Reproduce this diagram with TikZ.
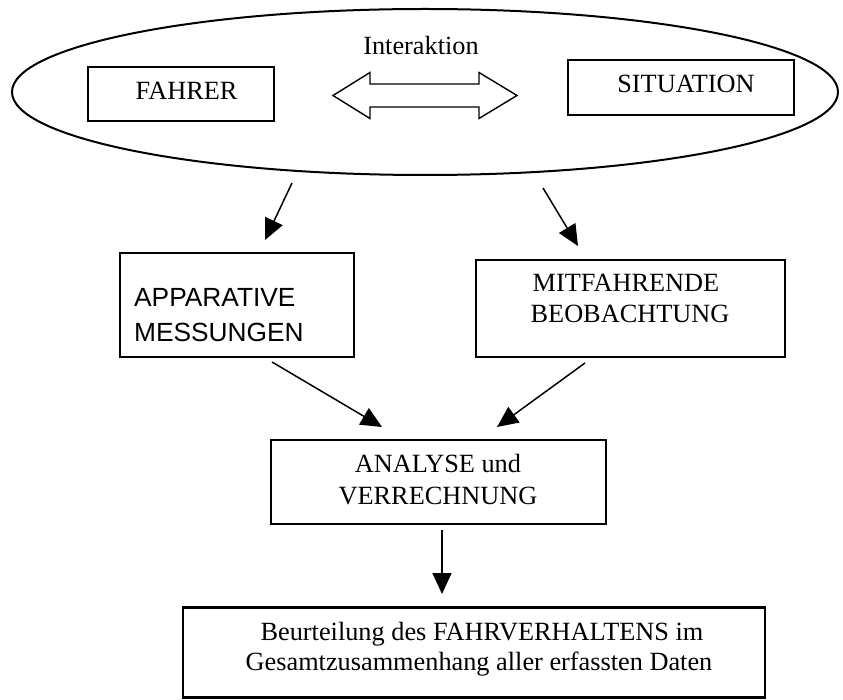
\documentclass[tikz,border=0pt]{standalone}
\usepackage{fontspec}
\setmainfont{Liberation Serif}
\newfontfamily\arialfont{Liberation Sans}
\usetikzlibrary{arrows.meta,shapes.geometric}
\begin{document}
\begin{tikzpicture}[x=1pt,y=-1pt,
  box/.style={draw, line width=2.2pt, inner sep=0pt},
  txt/.style={inner sep=0pt, anchor=base, font=\fontsize{26.3}{30}\selectfont},
  stxt/.style={inner sep=0pt, anchor=base west, font=\arialfont\fontsize{26.3}{30}\selectfont},
  arr/.style={line width=1.5pt, -{Triangle[length=21pt,width=19pt]}}]
\useasboundingbox (0,0) rectangle (843,700);
% ellipse
\node[draw, ellipse, line width=2pt, inner sep=0pt, minimum width=826pt, minimum height=166pt] (ell) at (425,92) {};
\node[txt] (inter) at (421,55) {Interaktion};
% boxes
\node[box, minimum width=186pt, minimum height=54pt] (fahrer) at (181,94) {};
\node[txt] (fahrerT) at (186.5,100) {FAHRER};
\node[box, minimum width=226pt, minimum height=55pt] (sit) at (681,87.5) {};
\node[txt] (sitT) at (686,93) {SITUATION};
% double arrow
\draw[line width=1.4pt, line join=miter] (333,95.5) -- (370,72.5) -- (370,84) -- (479,84) -- (479,72.5) -- (517,95.5)
  -- (479,118.5) -- (479,107) -- (370,107) -- (370,118.5) -- cycle;
% second row
\node[box, minimum width=234pt, minimum height=104pt] (app) at (237,305) {};
\node[stxt] (appT1) at (134,307) {APPARATIVE};
\node[stxt] (appT2) at (134,342) {MESSUNGEN};
\node[box, minimum width=309pt, minimum height=97pt] (mit) at (630.5,308.5) {};
\node[txt] (mitT1) at (626,292) {MITFAHRENDE};
\node[txt] (mitT2) at (630,323) {BEOBACHTUNG};
% third row
\node[box, minimum width=335pt, minimum height=84pt] (ana) at (438.5,482) {};
\node[txt] (anaT1) at (438,472) {ANALYSE und};
\node[txt] (anaT2) at (438,504) {VERRECHNUNG};
% bottom
\node[box, minimum width=582pt, minimum height=90pt] (beu) at (474,652.5) {};
\node[txt] (beuT1) at (482,640) {Beurteilung des FAHRVERHALTENS im};
\node[txt] (beuT2) at (479,670) {Gesamtzusammenhang aller erfassten Daten};
% connectors
\coordinate (a1s) at (292,183); \coordinate (a1e) at (265,240);
\coordinate (a2s) at (543,188); \coordinate (a2e) at (578,246);
\coordinate (a3s) at (272,362); \coordinate (a3e) at (382,427);
\coordinate (a4s) at (585,363); \coordinate (a4e) at (497,427);
\coordinate (a5s) at (442,530); \coordinate (a5e) at (442,594);
\draw[arr] (a1s) -- (a1e);
\draw[arr] (a2s) -- (a2e);
\draw[arr] (a3s) -- (a3e);
\draw[arr] (a4s) -- (a4e);
\draw[arr] (a5s) -- (a5e);
\end{tikzpicture}
\end{document}
